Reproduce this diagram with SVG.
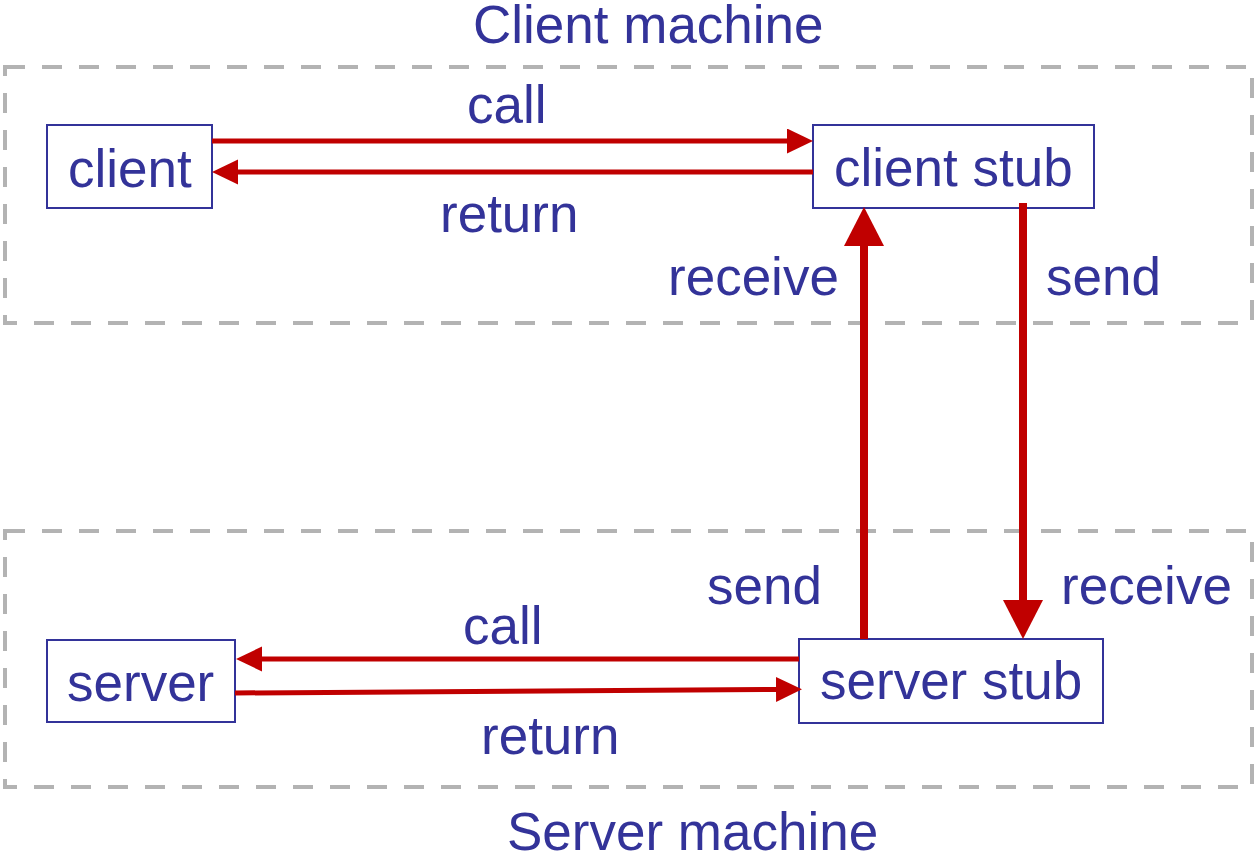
<svg xmlns="http://www.w3.org/2000/svg" width="1255" height="862" viewBox="0 0 1255 862">
  <defs>
    <style>
      .label { font-family: "Liberation Sans", Arial, sans-serif; font-size: 53px; fill: #333399; }
      .machine { fill: none; stroke: #b3b3b3; stroke-width: 4; stroke-dasharray: 20 17; }
      .box { fill: #ffffff; stroke: #333399; stroke-width: 2; }
      .thin { stroke: #c00000; stroke-width: 5; fill: none; marker-end: url(#headSmall); }
      .thick { stroke: #c00000; stroke-width: 8; fill: none; marker-end: url(#headLarge); }
    </style>
    <marker id="headSmall" markerUnits="userSpaceOnUse" markerWidth="27" markerHeight="26" refX="0" refY="12.5" orient="auto">
      <path d="M0,0 L26,12.5 L0,25 z" fill="#c00000"/>
    </marker>
    <marker id="headLarge" markerUnits="userSpaceOnUse" markerWidth="40" markerHeight="41" refX="0" refY="20" orient="auto">
      <path d="M0,0 L39,20 L0,40 z" fill="#c00000"/>
    </marker>
  </defs>

  <rect width="1255" height="862" fill="#ffffff"/>

  <!-- machine boundaries -->
  <g id="client-machine">
    <rect class="machine" x="5" y="67" width="1247" height="256"/>
    <text class="label" x="473" y="43">Client machine</text>
  </g>
  <g id="server-machine">
    <rect class="machine" x="5" y="531" width="1247" height="256"/>
    <text class="label" x="507" y="850">Server machine</text>
  </g>

  <!-- processes -->
  <g id="client">
    <rect class="box" x="47" y="125" width="165" height="83"/>
    <text class="label" x="68" y="187">client</text>
  </g>
  <g id="client-stub">
    <rect class="box" x="813" y="125" width="281" height="83"/>
    <text class="label" x="834" y="186">client stub</text>
  </g>
  <g id="server">
    <rect class="box" x="47" y="640" width="188" height="82"/>
    <text class="label" x="67" y="701">server</text>
  </g>
  <g id="server-stub">
    <rect class="box" x="799" y="639" width="304" height="84"/>
    <text class="label" x="820" y="699">server stub</text>
  </g>

  <!-- message flow -->
  <g id="connectors">
    <line class="thin" x1="212" y1="141" x2="787" y2="141"/>
    <line class="thin" x1="813" y1="172" x2="238" y2="172"/>
    <line class="thick" x1="864" y1="639" x2="864" y2="246"/>
    <line class="thick" x1="1023" y1="203" x2="1023" y2="600"/>
    <line class="thin" x1="799" y1="659" x2="262" y2="659"/>
    <line class="thin" x1="235" y1="693" x2="776" y2="689.5"/>
  </g>

  <g id="connector-labels">
    <text class="label" x="467" y="123">call</text>
    <text class="label" x="440" y="232">return</text>
    <text class="label" x="668" y="295">receive</text>
    <text class="label" x="1046" y="295">send</text>
    <text class="label" x="707" y="604">send</text>
    <text class="label" x="1061" y="604">receive</text>
    <text class="label" x="463" y="644">call</text>
    <text class="label" x="481" y="754">return</text>
  </g>
</svg>
